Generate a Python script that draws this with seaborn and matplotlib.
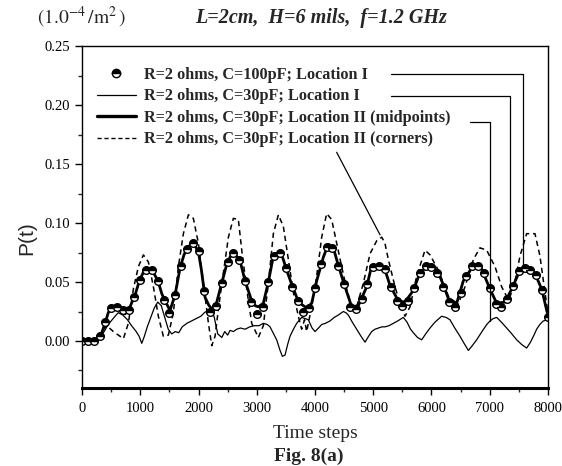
import numpy as np
import pandas as pd
import seaborn as sns
import matplotlib
matplotlib.use('Agg')
import matplotlib.pyplot as plt
from matplotlib.lines import Line2D
from matplotlib.ticker import MultipleLocator, FormatStrFormatter

# C=100pF, Location I (markers every 100 steps)
c100_steps = list(range(0, 8001, 100))
c100_vals = [0.0, 0.0, 0.0, 0.004, 0.016, 0.028, 0.029, 0.026, 0.026, 0.037,
             0.052, 0.060, 0.060, 0.051, 0.035, 0.024, 0.039, 0.064, 0.078, 0.083,
             0.076, 0.042, 0.025, 0.030, 0.049, 0.067, 0.075, 0.069, 0.051, 0.033,
             0.023, 0.029, 0.050, 0.072, 0.075, 0.062, 0.046, 0.034, 0.025, 0.028,
             0.045, 0.065, 0.080, 0.079, 0.064, 0.048, 0.029, 0.027, 0.036, 0.048,
             0.063, 0.064, 0.061, 0.046, 0.034, 0.030, 0.034, 0.045, 0.058, 0.064,
             0.063, 0.058, 0.046, 0.033, 0.029, 0.041, 0.055, 0.064, 0.064, 0.058,
             0.045, 0.031, 0.029, 0.036, 0.047, 0.059, 0.062, 0.060, 0.056, 0.043,
             0.020]

# C=30pF, Location II (midpoints)
mid_steps = [0, 100, 200, 250, 338, 395, 450, 510, 580, 652, 738, 824, 910, 984, 1050,
             1111, 1197, 1260, 1310, 1370, 1425, 1511, 1597, 1683, 1750, 1797, 1850, 1911,
             1960, 1997, 2050, 2112, 2180, 2255, 2313, 2398, 2484, 2540, 2598, 2650, 2713,
             2799, 2913, 2970, 3027, 3113, 3199, 3285, 3340, 3400, 3450, 3514, 3600, 3686,
             3770, 3857, 3943, 4029, 4143, 4229, 4315, 4401, 4515, 4630, 4744, 4888, 4974,
             5060, 5117, 5203, 5289, 5431, 5546, 5689, 5803, 5946, 6030, 6118, 6200, 6290,
             6433, 6547, 6719, 6862, 7005, 7120, 7263, 7377, 7520, 7634, 7700, 7778, 7893,
             7978, 8000]
mid_vals = [0.0, 0.0, 0.001, 0.0, 0.007, 0.015, 0.024, 0.029, 0.030, 0.029, 0.023, 0.029,
            0.039, 0.051, 0.058, 0.060, 0.060, 0.055, 0.050, 0.040, 0.034, 0.026, 0.039,
            0.062, 0.073, 0.078, 0.081, 0.083, 0.079, 0.076, 0.060, 0.037, 0.030, 0.026,
            0.033, 0.049, 0.065, 0.071, 0.075, 0.072, 0.068, 0.051, 0.034, 0.030, 0.029,
            0.032, 0.050, 0.072, 0.074, 0.075, 0.070, 0.060, 0.048, 0.037, 0.031, 0.028,
            0.032, 0.051, 0.071, 0.082, 0.079, 0.064, 0.046, 0.029, 0.030, 0.046, 0.064,
            0.064, 0.062, 0.060, 0.047, 0.034, 0.033, 0.043, 0.058, 0.064, 0.063, 0.058,
            0.048, 0.036, 0.032, 0.051, 0.064, 0.061, 0.044, 0.032, 0.033, 0.044, 0.060,
            0.061, 0.060, 0.057, 0.044, 0.026, 0.022]

# C=30pF, Location II (corners)
cor_steps = [0, 250, 338, 424, 538, 652, 710, 795, 881, 967, 1053, 1139, 1225, 1310, 1396,
             1482, 1568, 1654, 1740, 1826, 1911, 1997, 2084, 2170, 2227, 2284, 2341, 2427,
             2513, 2598, 2684, 2742, 2828, 2913, 3027, 3113, 3199, 3285, 3371, 3457, 3543,
             3628, 3714, 3771, 3820, 3857, 3943, 4029, 4115, 4200, 4286, 4372, 4458, 4544,
             4630, 4715, 4830, 4945, 5060, 5146, 5200, 5260, 5374, 5489, 5546, 5632, 5746,
             5889, 5975, 6118, 6290, 6433, 6576, 6719, 6833, 6948, 7091, 7205, 7320, 7406,
             7520, 7634, 7777, 7863, 7949, 8000]
cor_vals = [0.0, 0.0, 0.008, 0.013, 0.008, 0.004, 0.002, 0.015, 0.044, 0.063, 0.073, 0.067,
            0.046, 0.021, 0.004, 0.005, 0.024, 0.063, 0.091, 0.107, 0.104, 0.083, 0.049,
            0.015, -0.004, 0.004, 0.027, 0.058, 0.088, 0.104, 0.103, 0.077, 0.044, 0.015,
            0.003, 0.013, 0.049, 0.091, 0.107, 0.097, 0.069, 0.041, 0.021, 0.010, 0.018,
            0.008, 0.029, 0.055, 0.088, 0.108, 0.103, 0.083, 0.063, 0.044, 0.029, 0.029,
            0.049, 0.074, 0.085, 0.088, 0.083, 0.069, 0.046, 0.027, 0.021, 0.029, 0.055,
            0.077, 0.073, 0.060, 0.038, 0.028, 0.046, 0.069, 0.079, 0.077, 0.063, 0.046,
            0.035, 0.044, 0.072, 0.091, 0.091, 0.072, 0.041, 0.024]

# C=30pF, Location I
loc1_steps = [0, 250, 300, 380, 450, 550, 620, 700, 780, 850, 930, 980, 1025, 1070, 1120,
              1180, 1240, 1300, 1360, 1420, 1480, 1540, 1600, 1660, 1720, 1800, 1880, 1960,
              2040, 2100, 2160, 2220, 2270, 2330, 2400, 2450, 2500, 2541, 2600, 2656, 2720,
              2800, 2880, 2960, 3040, 3113, 3180, 3228, 3290, 3342, 3400, 3440, 3485, 3530,
              3571, 3630, 3686, 3771, 3830, 3886, 3950, 4000, 4060, 4115, 4180, 4258, 4330,
              4400, 4486, 4530, 4572, 4640, 4715, 4790, 4859, 4920, 4974, 5030, 5089, 5150,
              5203, 5270, 5346, 5420, 5517, 5580, 5640, 5689, 5760, 5832, 5900, 5975, 6060,
              6175, 6250, 6318, 6400, 6490, 6560, 6633, 6700, 6776, 6880, 6950, 7005, 7060,
              7120, 7200, 7291, 7380, 7463, 7550, 7634, 7700, 7760, 7806, 7860, 7920, 8000]
loc1_vals = [0.0, 0.0, 0.003, 0.008, 0.014, 0.020, 0.024, 0.022, 0.018, 0.013, 0.008,
             0.004, -0.002, 0.004, 0.012, 0.020, 0.028, 0.033, 0.030, 0.020, 0.010, 0.006,
             0.008, 0.007, 0.012, 0.015, 0.017, 0.019, 0.021, 0.024, 0.026, 0.028, 0.020,
             0.006, 0.003, 0.008, 0.005, 0.009, 0.008, 0.010, 0.011, 0.010, 0.012, 0.013,
             0.013, 0.015, 0.014, 0.012, 0.006, 0.001, -0.008, -0.013, -0.012, -0.003,
             0.004, 0.010, 0.015, 0.020, 0.019, 0.018, 0.011, 0.008, 0.011, 0.014, 0.015,
             0.017, 0.020, 0.022, 0.025, 0.024, 0.022, 0.016, 0.010, 0.004, -0.001, 0.004,
             0.008, 0.010, 0.011, 0.012, 0.012, 0.013, 0.015, 0.017, 0.020, 0.016, 0.010,
             0.007, 0.003, 0.001, 0.006, 0.011, 0.016, 0.021, 0.020, 0.018, 0.011, 0.004,
             -0.002, -0.008, -0.004, 0.001, 0.009, 0.014, 0.017, 0.019, 0.020, 0.016,
             0.011, 0.006, 0.001, -0.003, -0.006, -0.001, 0.005, 0.010, 0.014, 0.017, 0.018]

labels = ['R=2 ohms, C=100pF; Location I',
          'R=2 ohms, C=30pF; Location I',
          'R=2 ohms, C=30pF; Location II (midpoints)',
          'R=2 ohms, C=30pF; Location II (corners)']

# leader lines: (start step, start value) -> (end step, end value)
leader_start = [(5305, 0.226), (5305, 0.208), (6660, 0.186), (4372, 0.160)]
leader_end = [(7580, 0.063), (7348, 0.044), (7005, 0.017), (5117, 0.090)]

sns.set_style('ticks')
plt.rcParams['font.family'] = ['Liberation Serif', 'DejaVu Serif']
plt.rcParams['mathtext.fontset'] = 'stix'

fig = plt.figure(figsize=(5.62, 4.66), dpi=100)
ax = fig.add_axes([0.146, 0.167, 0.829, 0.734])

c100 = pd.DataFrame({'t': c100_steps, 'p': c100_vals})
mid = pd.DataFrame({'t': mid_steps, 'p': mid_vals})
cor = pd.DataFrame({'t': cor_steps, 'p': cor_vals})
loc1 = pd.DataFrame({'t': loc1_steps, 'p': loc1_vals})

sns.lineplot(data=loc1, x='t', y='p', ax=ax, color='black', lw=0.9)
sns.lineplot(data=cor, x='t', y='p', ax=ax, color='black', lw=1.1, linestyle=(0, (3.5, 2.5)))
sns.lineplot(data=mid, x='t', y='p', ax=ax, color='black', lw=2.0)
ax.plot(c100['t'], c100['p'], linestyle='none', marker='o', ms=5.5, fillstyle='top',
        markerfacecolor='black', markerfacecoloralt='white', markeredgecolor='black', mew=1)

handles = [
    Line2D([], [], linestyle='none', marker='o', ms=6, fillstyle='top', markerfacecolor='black',
           markerfacecoloralt='white', markeredgecolor='black'),
    Line2D([], [], color='black', lw=0.9),
    Line2D([], [], color='black', lw=2.4),
    Line2D([], [], color='black', lw=1.0, linestyle=(0, (3, 2))),
]
ax.legend(handles, labels, loc='upper left', bbox_to_anchor=(0.0, 0.982), frameon=False,
          handlelength=2.4, handletextpad=0.5, labelspacing=0.34,
          prop={'family': 'Liberation Serif', 'weight': 'bold', 'size': 11.7})

for (x0, y0), (x1, y1) in zip(leader_start[:3], leader_end[:3]):
    ax.annotate('', xy=(x1, y1), xytext=(x0, y0),
                arrowprops=dict(arrowstyle='-', lw=0.9, color='black', shrinkA=0, shrinkB=0,
                                connectionstyle='angle,angleA=0,angleB=90,rad=0'))
x0, y0 = leader_start[3]
x1, y1 = leader_end[3]
ax.annotate('', xy=(x1, y1), xytext=(x0, y0),
            arrowprops=dict(arrowstyle='-', lw=0.9, color='black', shrinkA=0, shrinkB=0))

ax.set_xlim(0, 8000)
ax.set_ylim(-0.04, 0.25)
ax.xaxis.set_major_locator(MultipleLocator(1000))
ax.xaxis.set_minor_locator(MultipleLocator(500))
ax.yaxis.set_major_locator(MultipleLocator(0.05))
ax.yaxis.set_minor_locator(MultipleLocator(0.025))
ax.yaxis.set_major_formatter(FormatStrFormatter('%.2f'))
ax.set_yticks([0.0, 0.05, 0.10, 0.15, 0.20, 0.25])
ax.tick_params(axis='both', which='major', direction='out', length=5, width=1, labelsize=10.5,
               colors='black')
ax.tick_params(axis='x', which='major', pad=5)
ax.tick_params(axis='both', which='minor', direction='out', length=3, width=1)
for s in ['top', 'right', 'left']:
    ax.spines[s].set_visible(True)
    ax.spines[s].set_linewidth(1.0)
    ax.spines[s].set_color('black')
ax.spines['bottom'].set_linewidth(2.2)
ax.spines['bottom'].set_color('black')

ax.set_xlabel('Time steps', fontsize=14, labelpad=7)
ax.set_ylabel('P(t)', fontsize=15, family='Liberation Sans', labelpad=4)
ax.yaxis.set_label_coords(-0.098, 0.44)

fig.text(0.572, 0.962, 'L=2cm,  H=6 mils,  f=1.2 GHz', ha='center', va='center', fontsize=14.5,
         style='italic', weight='bold')
fig.text(0.066, 0.962, r'$(1.0^{-4}\,/\mathrm{m}^2\,)$', ha='left', va='center', fontsize=14)
fig.text(0.55, 0.002, 'Fig. 8(a)', ha='center', va='bottom', fontsize=14, weight='bold')

fig.savefig('out.png', dpi=100, facecolor='white')
